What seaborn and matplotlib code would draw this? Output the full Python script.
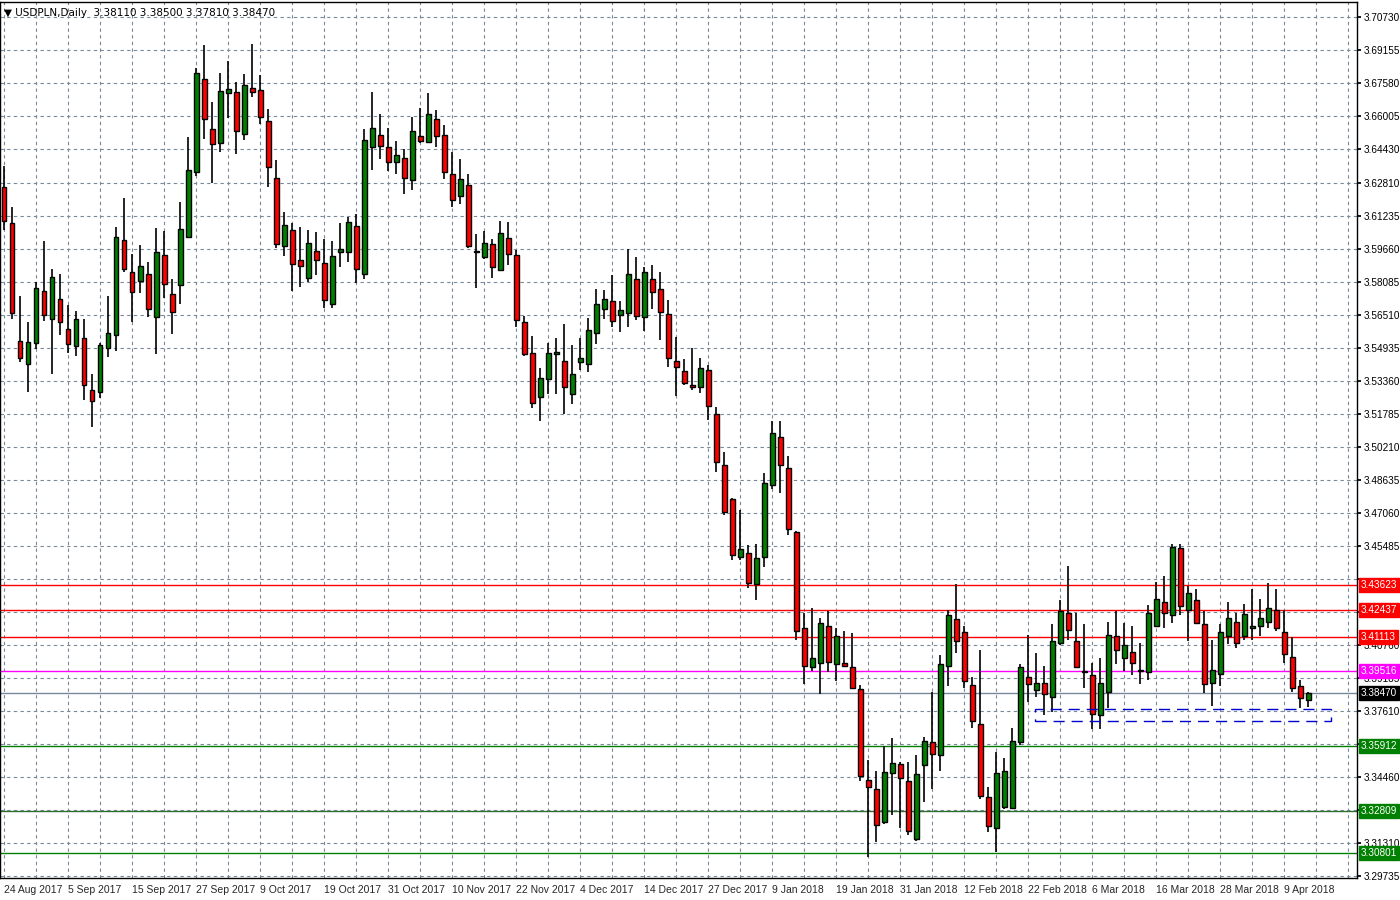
import matplotlib
matplotlib.use("Agg")
import matplotlib.pyplot as plt
import matplotlib.transforms as mtrans
from matplotlib.patches import Rectangle
import seaborn as sb
import numpy as np

# USDPLN daily, 24 Aug 2017 - 12 Apr 2018
opens = [3.6262, 3.6090, 3.5527, 3.5418, 3.5518, 3.5766, 3.5632, 3.5728, 3.5585, 3.5504,
         3.5542, 3.5294, 3.5284, 3.5494, 3.5556, 3.6009, 3.5857, 3.5814, 3.5847, 3.5642,
         3.5938, 3.5752, 3.5795, 3.6024, 3.6334, 3.6777, 3.6539, 3.6472, 3.6710, 3.6715,
         3.6515, 3.6734, 3.6725, 3.6577, 3.6305, 3.5981, 3.6057, 3.5914, 3.5828, 3.5957,
         3.5899, 3.5704, 3.5952, 3.5952, 3.6076, 3.5847, 3.6453, 3.6510, 3.6453, 3.6381,
         3.6400, 3.6295, 3.6505, 3.6477, 3.6586, 3.6510, 3.6324, 3.6219, 3.6272, 3.5957,
         3.5928, 3.5990, 3.5866, 3.6019, 3.5938, 3.5618, 3.5470, 3.5260, 3.5346, 3.5465,
         3.5432, 3.5275, 3.5427, 3.5418, 3.5566, 3.5680, 3.5718, 3.5651, 3.5661, 3.5823,
         3.5642, 3.5823, 3.5775, 3.5656, 3.5432, 3.5384, 3.5318, 3.5308, 3.5389, 3.5179,
         3.4936, 3.4774, 3.4497, 3.4516, 3.4368, 3.4497, 3.4841, 3.5070, 3.4922, 3.4616,
         3.4158, 3.3972, 3.3991, 3.4168, 3.3982, 3.3987, 3.3972, 3.3867, 3.3433, 3.3386,
         3.3228, 3.3462, 3.3505, 3.3424, 3.3147, 3.3500, 3.3610, 3.3548, 3.3977, 3.4201,
         3.4139, 3.3882, 3.3700, 3.3348, 3.3200, 3.3300, 3.3295, 3.3610, 3.3920, 3.3858,
         3.3896, 3.3825, 3.4087, 3.4230, 3.4092, 3.3949, 3.3934, 3.3739, 3.3853, 3.4116,
         3.4011, 3.4044, 3.3953, 3.3944, 3.4168, 3.4278, 3.4220, 3.4540, 3.4240, 3.4292,
         3.4173, 3.3896, 3.3939, 3.4120, 3.4187, 3.4116, 3.4158, 3.4168, 3.4187, 3.4244,
         3.4135, 3.4020, 3.3877, 3.3811]
highs = [3.6362, 3.6167, 3.5742, 3.5618, 3.5809, 3.6004, 3.5871, 3.5847, 3.5699, 3.5671,
         3.5632, 3.5370, 3.5518, 3.5742, 3.6071, 3.6210, 3.5942, 3.5985, 3.5904, 3.6066,
         3.6052, 3.5823, 3.6190, 3.6501, 3.6830, 3.6939, 3.6667, 3.6806, 3.6863, 3.6763,
         3.6801, 3.6944, 3.6796, 3.6634, 3.6391, 3.6143, 3.6090, 3.6071, 3.6057, 3.6047,
         3.6014, 3.6004, 3.6090, 3.6119, 3.6133, 3.6539, 3.6715, 3.6610, 3.6543, 3.6481,
         3.6443, 3.6596, 3.6639, 3.6710, 3.6629, 3.6558, 3.6429, 3.6396, 3.6324, 3.6038,
         3.6052, 3.6014, 3.6100, 3.6095, 3.5961, 3.5647, 3.5551, 3.5399, 3.5518, 3.5542,
         3.5609, 3.5508, 3.5542, 3.5637, 3.5775, 3.5771, 3.5842, 3.5718, 3.5966, 3.5928,
         3.5880, 3.5890, 3.5857, 3.5723, 3.5547, 3.5442, 3.5494, 3.5446, 3.5413, 3.5213,
         3.4998, 3.4779, 3.4721, 3.4554, 3.4559, 3.4898, 3.5146, 3.5146, 3.4979, 3.4621,
         3.4230, 3.4254, 3.4206, 3.4235, 3.4154, 3.4144, 3.4130, 3.3882, 3.3524, 3.3476,
         3.3591, 3.3629, 3.3515, 3.3515, 3.3548, 3.3634, 3.3853, 3.4025, 3.4240, 3.4364,
         3.4168, 3.3920, 3.4053, 3.3395, 3.3562, 3.3538, 3.3677, 3.3982, 3.4125, 3.4039,
         3.3977, 3.4173, 3.4292, 3.4454, 3.4230, 3.4173, 3.3991, 3.4015, 3.4187, 3.4235,
         3.4182, 3.4168, 3.4087, 3.4268, 3.4378, 3.4406, 3.4559, 3.4559, 3.4359, 3.4344,
         3.4235, 3.4101, 3.4173, 3.4278, 3.4230, 3.4273, 3.4340, 3.4297, 3.4373, 3.4344,
         3.4244, 3.4111, 3.3910, 3.3850]
lows = [3.6057, 3.5632, 3.5427, 3.5284, 3.5489, 3.5623, 3.5370, 3.5556, 3.5470, 3.5456,
        3.5246, 3.5117, 3.5256, 3.5451, 3.5480, 3.5857, 3.5618, 3.5756, 3.5642, 3.5465,
        3.5733, 3.5561, 3.5704, 3.6019, 3.6314, 3.6491, 3.6281, 3.6429, 3.6591, 3.6419,
        3.6486, 3.6691, 3.6563, 3.6262, 3.5971, 3.5933, 3.5766, 3.5785, 3.5809, 3.5842,
        3.5685, 3.5685, 3.5880, 3.5904, 3.5804, 3.5823, 3.6343, 3.6396, 3.6338, 3.6324,
        3.6229, 3.6248, 3.6472, 3.6472, 3.6453, 3.6300, 3.6167, 3.6181, 3.5971, 3.5780,
        3.5919, 3.5828, 3.5861, 3.5890, 3.5594, 3.5456, 3.5208, 3.5146, 3.5275, 3.5275,
        3.5179, 3.5227, 3.5389, 3.5380, 3.5513, 3.5632, 3.5594, 3.5570, 3.5594, 3.5628,
        3.5575, 3.5680, 3.5532, 3.5403, 3.5265, 3.5318, 3.5294, 3.5279, 3.5151, 3.4903,
        3.4697, 3.4483, 3.4483, 3.4349, 3.4292, 3.4449, 3.4821, 3.4802, 3.4602, 3.4101,
        3.3887, 3.3949, 3.3839, 3.3944, 3.3901, 3.3968, 3.3863, 3.3424, 3.3061, 3.3133,
        3.3219, 3.3266, 3.3200, 3.3166, 3.3138, 3.3324, 3.3390, 3.3472, 3.3877, 3.4039,
        3.3872, 3.3681, 3.3338, 3.3181, 3.3085, 3.3290, 3.3290, 3.3600, 3.3801, 3.3829,
        3.3739, 3.3753, 3.4073, 3.4101, 3.3968, 3.3872, 3.3672, 3.3672, 3.3772, 3.3982,
        3.3949, 3.3934, 3.3887, 3.3906, 3.4163, 3.4154, 3.4178, 3.4220, 3.4096, 3.4173,
        3.3848, 3.3786, 3.3877, 3.4082, 3.4063, 3.4101, 3.4101, 3.4116, 3.4158, 3.4144,
        3.3991, 3.3853, 3.3772, 3.3781]
closes = [3.6100, 3.5661, 3.5446, 3.5523, 3.5780, 3.5651, 3.5833, 3.5618, 3.5513, 3.5632,
          3.5318, 3.5241, 3.5508, 3.5566, 3.6024, 3.5871, 3.5761, 3.5885, 3.5680, 3.5952,
          3.5799, 3.5666, 3.6062, 3.6343, 3.6806, 3.6586, 3.6467, 3.6720, 3.6729, 3.6529,
          3.6749, 3.6715, 3.6596, 3.6357, 3.5990, 3.6081, 3.5895, 3.5885, 3.5995, 3.5914,
          3.5723, 3.5933, 3.5966, 3.6095, 3.5871, 3.6486, 3.6543, 3.6458, 3.6381, 3.6415,
          3.6305, 3.6529, 3.6481, 3.6610, 3.6505, 3.6334, 3.6200, 3.6300, 3.5981, 3.5952,
          3.5995, 3.5880, 3.6043, 3.5942, 3.5628, 3.5465, 3.5232, 3.5351, 3.5470, 3.5475,
          3.5308, 3.5370, 3.5446, 3.5580, 3.5704, 3.5728, 3.5623, 3.5675, 3.5847, 3.5647,
          3.5857, 3.5761, 3.5666, 3.5446, 3.5403, 3.5327, 3.5308, 3.5399, 3.5217, 3.4950,
          3.4712, 3.4507, 3.4535, 3.4373, 3.4492, 3.4850, 3.5089, 3.4936, 3.4631, 3.4144,
          3.3977, 3.4011, 3.4182, 3.3996, 3.4120, 3.3977, 3.3872, 3.3448, 3.3395, 3.3214,
          3.3467, 3.3510, 3.3438, 3.3185, 3.3457, 3.3619, 3.3557, 3.3982, 3.4220, 3.4096,
          3.3901, 3.3710, 3.3352, 3.3209, 3.3462, 3.3472, 3.3619, 3.3968, 3.3891, 3.3896,
          3.3839, 3.4096, 3.4235, 3.4149, 3.3972, 3.3944, 3.3748, 3.3896, 3.4125, 3.4049,
          3.4077, 3.3991, 3.3958, 3.4230, 3.4297, 3.4230, 3.4545, 3.4259, 3.4321, 3.4178,
          3.3891, 3.3958, 3.4135, 3.4206, 3.4087, 3.4225, 3.4168, 3.4206, 3.4254, 3.4158,
          3.4030, 3.3872, 3.3820, 3.3847]

date_labels = ["24 Aug 2017", "5 Sep 2017", "15 Sep 2017", "27 Sep 2017", "9 Oct 2017",
               "19 Oct 2017", "31 Oct 2017", "10 Nov 2017", "22 Nov 2017", "4 Dec 2017",
               "14 Dec 2017", "27 Dec 2017", "9 Jan 2018", "19 Jan 2018", "31 Jan 2018",
               "12 Feb 2018", "22 Feb 2018", "6 Mar 2018", "16 Mar 2018", "28 Mar 2018",
               "9 Apr 2018"]
# grid lines of the price scale; the labels hidden under level boxes are left out
price_ticks = [3.70730, 3.69155, 3.67580, 3.66005, 3.64430, 3.62810, 3.61235, 3.59660,
               3.58085, 3.56510, 3.54935, 3.53360, 3.51785, 3.50210, 3.48635, 3.47060,
               3.45485, 3.43910, 3.42335, 3.40760, 3.39185, 3.37610, 3.36035, 3.34460,
               3.32885, 3.31310, 3.29735]
hidden_ticks = [3.43910, 3.42335, 3.36035, 3.32885]

# horizontal levels: value, line colour, label box colour
levels = [(3.43623, "#ff0000", "#ff0000"),
          (3.42437, "#ff0000", "#ff0000"),
          (3.41113, "#ff0000", "#ff0000"),
          (3.39516, "#ff00ff", "#ff00ff"),
          (3.38470, "#778899", "#000000"),
          (3.35912, "#008000", "#008000"),
          (3.32809, "#2f6f2f", "#008000"),
          (3.30801, "#008000", "#008000")]

# blue dashed zone
zone_x = (128.9, 165.9)
zone_y = (3.3713, 3.3770)

sb.set_theme(style="white")
plt.rcParams["font.family"] = ["Liberation Sans", "DejaVu Sans"]

fig = plt.figure(figsize=(14, 9), dpi=100)
ax = fig.add_axes([0.0, 22 / 900, 1357 / 1400, 876 / 900])
ax.set_facecolor("white")

n = len(closes)
idx = np.arange(n)
o = np.array(opens)
c = np.array(closes)
up = c >= o

grid_kw = dict(color="#778899", lw=0.8, ls=(0, (3, 3)), zorder=0)
for p in price_ticks:
    ax.axhline(p, **grid_kw)
for i in range(0, 172, 4):
    ax.axvline(i, **grid_kw)

for val, lc, bc in levels:
    ax.axhline(val, color=lc, lw=1.0, zorder=1)

ax.vlines(idx, lows, highs, color="black", lw=1.2, zorder=2)
bottoms = np.minimum(o, c)
heights = np.maximum(np.abs(c - o), 0.00025)
colors = np.where(up, "#008000", "#ff0000")
ax.bar(idx, heights, bottom=bottoms, width=0.62, color=colors,
       edgecolor="black", linewidth=1.0, zorder=3)

ax.add_patch(Rectangle((zone_x[0], zone_y[0]), zone_x[1] - zone_x[0],
                       zone_y[1] - zone_y[0], fill=False, edgecolor="#0000cc",
                       lw=1.0, ls=(0, (8, 5)), zorder=4))

ax.set_xlim(-0.5, 169.1)
ax.set_ylim(3.2963, 3.7144)

ax.yaxis.tick_right()
ax.set_yticks(price_ticks)
ax.set_yticklabels(["" if p in hidden_ticks else f"{p:.5f}" for p in price_ticks],
                   fontsize=7.2)
ax.tick_params(axis="y", length=3, pad=1.5, colors="black")
ax.set_xticks(np.arange(0, 8 * len(date_labels), 8))
ax.set_xticklabels(date_labels, fontsize=7.5, ha="left")
ax.tick_params(axis="x", length=3, pad=2)

for s in ax.spines.values():
    s.set_color("black")
    s.set_linewidth(1.0)

trans = mtrans.blended_transform_factory(ax.transAxes, ax.transData)
for val, lc, bc in levels:
    ax.text(1.003, val, f"{val:.5f}", transform=trans, fontsize=7.2, color="white",
            va="center", ha="left", clip_on=False, zorder=10,
            bbox=dict(boxstyle="square,pad=0.2", fc=bc, ec=bc))

ax.text(0.003, 0.993, "\u25bc USDPLN,Daily  3.38110 3.38500 3.37810 3.38470",
        transform=ax.transAxes, fontsize=7.5, va="top", ha="left", color="black",
        family=["DejaVu Sans"])

fig.savefig("out.png", dpi=100)
